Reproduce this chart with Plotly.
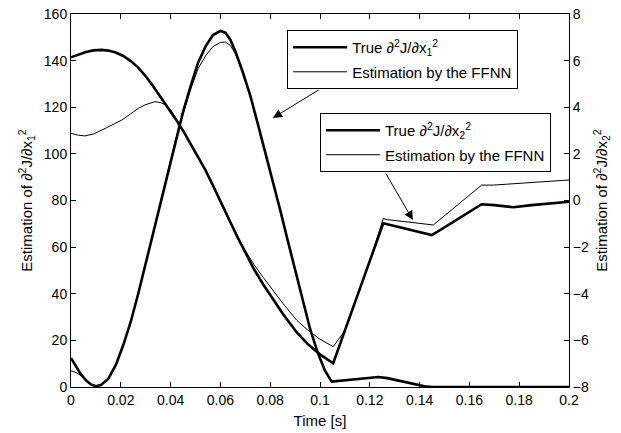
import plotly.graph_objects as go

# ---- data: second derivatives of J w.r.t. x1 (left axis) ----
t_x1_true = [0, 0.002, 0.004, 0.006, 0.008, 0.010, 0.012, 0.015, 0.018, 0.021,
             0.024, 0.027, 0.030, 0.033, 0.036, 0.039, 0.042, 0.045, 0.048, 0.051,
             0.054, 0.057, 0.060, 0.062, 0.064, 0.066, 0.069, 0.072, 0.075, 0.078,
             0.081, 0.084, 0.087, 0.090, 0.093, 0.096, 0.099, 0.102, 0.1047, 0.110,
             0.115, 0.120, 0.1235, 0.127, 0.132, 0.137, 0.142, 0.145, 0.150, 0.160,
             0.170, 0.180, 0.190, 0.200]
x1_true = [12.4, 8.6, 5.4, 2.9, 1.1, 0.3, 0.8, 3.6, 9.5, 18,
           28, 40, 53, 66, 79, 93, 106, 118, 129, 139,
           146, 151, 152.7, 152, 149, 144, 135, 125, 113, 101,
           89, 76, 63, 50, 37, 25, 15, 7, 2.3, 2.8,
           3.4, 4.0, 4.3, 3.8, 2.6, 1.4, 0.3, 0, 0, 0,
           0, 0, 0, 0]

t_x1_nn = [0, 0.002, 0.004, 0.006, 0.008, 0.010, 0.012, 0.015, 0.018, 0.021,
           0.024, 0.027, 0.030, 0.033, 0.036, 0.039, 0.042, 0.045, 0.048, 0.051,
           0.054, 0.057, 0.060, 0.062, 0.064, 0.066, 0.069, 0.072, 0.075, 0.078,
           0.081, 0.084, 0.087, 0.090, 0.093, 0.096, 0.099, 0.102, 0.1047, 0.110,
           0.115, 0.120, 0.1235, 0.127, 0.132, 0.137, 0.142, 0.145, 0.150, 0.160,
           0.170, 0.180, 0.190, 0.200]
x1_nn = [7.0, 6.2, 5.0, 2.9, 1.1, 0.3, 0.8, 3.6, 9.5, 18,
         28, 40, 53, 66, 79, 93, 106, 117, 127.5, 136.5,
         142, 146, 147.8, 148, 146.5, 143, 135, 125, 113, 101,
         89, 76, 63, 50, 37, 25, 15, 7, 2.3, 2.8,
         3.4, 4.0, 4.3, 3.8, 2.6, 1.4, 0.3, 0, 0, 0,
         0, 0, 0, 0]

# ---- data: second derivatives of J w.r.t. x2 (right axis) ----
t_x2_true = [0, 0.003, 0.006, 0.009, 0.0123, 0.015, 0.018, 0.021, 0.024, 0.027,
             0.030, 0.033, 0.036, 0.039, 0.042, 0.045, 0.048, 0.051, 0.054, 0.057,
             0.060, 0.0639, 0.067, 0.070, 0.0735, 0.0772, 0.081, 0.085, 0.0906, 0.095,
             0.100, 0.1053, 0.1254, 0.130, 0.135, 0.140, 0.1449, 0.150, 0.155, 0.160,
             0.1649, 0.170, 0.1776, 0.185, 0.192, 0.200]
x2_true = [6.14, 6.27, 6.37, 6.44, 6.46, 6.43, 6.35, 6.2, 5.98, 5.7,
           5.33, 4.9, 4.45, 3.98, 3.5, 3.0, 2.45, 1.9, 1.3, 0.65,
           0.0, -0.91, -1.6, -2.25, -2.95, -3.6, -4.2, -4.85, -5.65, -6.15,
           -6.6, -6.98, -0.98, -1.1, -1.25, -1.38, -1.48, -1.15, -0.82, -0.48,
           -0.16, -0.2, -0.29, -0.2, -0.12, -0.05]

t_x2_nn = [0, 0.003, 0.0056, 0.009, 0.012, 0.015, 0.018, 0.0204, 0.024, 0.027,
           0.0297, 0.032, 0.0337, 0.036, 0.0378, 0.040, 0.042, 0.045, 0.048, 0.051,
           0.054, 0.057, 0.060, 0.0639, 0.067, 0.070, 0.0735, 0.0772, 0.081, 0.085,
           0.0906, 0.095, 0.100, 0.1053, 0.110, 0.115, 0.120, 0.1254, 0.127, 0.1455,
           0.1649, 0.1696, 0.180, 0.190, 0.200]
x2_nn = [2.88, 2.8, 2.77, 2.85, 3.0, 3.15, 3.32, 3.45, 3.72, 3.95,
         4.1, 4.2, 4.24, 4.2, 4.1, 3.9, 3.55, 3.0, 2.45, 1.9,
         1.3, 0.65, 0.0, -0.9, -1.55, -2.15, -2.75, -3.3, -3.85, -4.4,
         -5.13, -5.55, -5.95, -6.27, -5.58, -4.08, -2.59, -0.77, -0.82, -1.05,
         0.66, 0.66, 0.74, 0.8, 0.88]

x_ticks = [0, 0.02, 0.04, 0.06, 0.08, 0.1, 0.12, 0.14, 0.16, 0.18, 0.2]
x_tick_labels = ["0", "0.02", "0.04", "0.06", "0.08", "0.1", "0.12", "0.14", "0.16", "0.18", "0.2"]
y1_ticks = [0, 20, 40, 60, 80, 100, 120, 140, 160]
y2_ticks = [-8, -6, -4, -2, 0, 2, 4, 6, 8]

FONT = "Liberation Sans, Arial, sans-serif"
THICK = 2.6
THIN = 1.0

fig = go.Figure()

fig.add_trace(go.Scatter(
    x=t_x1_true, y=x1_true, mode="lines", yaxis="y",
    line=dict(color="black", width=THICK),
    name="True ∂<sup>2</sup>J/∂x<sub>1</sub><sup>2</sup>",
    legend="legend", legendgroup="a1"))
fig.add_trace(go.Scatter(
    x=t_x1_nn, y=x1_nn, mode="lines", yaxis="y",
    line=dict(color="black", width=THIN),
    name="Estimation by the FFNN",
    legend="legend", legendgroup="a2"))
fig.add_trace(go.Scatter(
    x=t_x2_true, y=x2_true, mode="lines", yaxis="y2",
    line=dict(color="black", width=THICK),
    name="True ∂<sup>2</sup>J/∂x<sub>2</sub><sup>2</sup>",
    legend="legend2", legendgroup="b1"))
fig.add_trace(go.Scatter(
    x=t_x2_nn, y=x2_nn, mode="lines", yaxis="y2",
    line=dict(color="black", width=THIN),
    name="Estimation by the FFNN",
    legend="legend2", legendgroup="b2"))

axis_common = dict(
    showgrid=False, zeroline=False, showline=True, linecolor="black", linewidth=1,
    ticks="inside", ticklen=5, tickcolor="black", tickwidth=1,
    tickfont=dict(family=FONT, size=14, color="black"),
    automargin=False,
)

legend_common = dict(
    xanchor="left", yanchor="top",
    bgcolor="white", bordercolor="black", borderwidth=1,
    font=dict(family=FONT, size=15), itemwidth=54,
    traceorder="grouped", tracegroupgap=2,
)

fig.update_layout(
    width=621, height=433,
    margin=dict(l=71, r=52, t=14, b=46),
    paper_bgcolor="white", plot_bgcolor="white",
    font=dict(family=FONT, size=14, color="black"),
    xaxis=dict(
        range=[0, 0.2], tickvals=x_ticks, ticktext=x_tick_labels,
        mirror="ticks",
        title=dict(text="Time [s]", standoff=8, font=dict(size=15)),
        **axis_common),
    yaxis=dict(
        range=[0, 160], tickvals=y1_ticks,
        title=dict(text="Estimation of ∂<sup>2</sup>J/∂x<sub>1</sub><sup>2</sup>",
                   standoff=7, font=dict(size=15)),
        **axis_common),
    yaxis2=dict(
        range=[-8, 8], tickvals=y2_ticks, overlaying="y", side="right",
        title=dict(text="Estimation of ∂<sup>2</sup>J/∂x<sub>2</sub><sup>2</sup>",
                   standoff=8, font=dict(size=15)),
        **axis_common),
    legend=dict(x=0.434, y=0.957, **legend_common),
    legend2=dict(x=0.5, y=0.7346, **legend_common),
    annotations=[
        dict(x=0.0811, y=115.4, xref="x", yref="y",
             ax=0.1, ay=127.8, axref="x", ayref="y",
             text="", showarrow=True, arrowhead=2, arrowsize=1.8,
             arrowwidth=1, arrowcolor="black"),
        dict(x=0.1373, y=71.6, xref="x", yref="y",
             ax=0.1261, ay=92.2, axref="x", ayref="y",
             text="", showarrow=True, arrowhead=2, arrowsize=1.8,
             arrowwidth=1, arrowcolor="black"),
    ],
    showlegend=True,
)

fig.write_html("out.html")
